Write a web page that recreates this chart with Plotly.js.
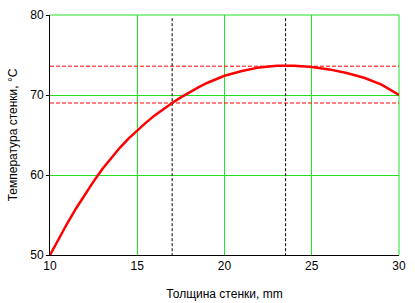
<!DOCTYPE html>
<html>
<head>
<meta charset="utf-8">
<script src="https://cdn.plot.ly/plotly-3.0.1.min.js"></script>
<style>html,body{margin:0;padding:0;background:#fff;}#chart{width:415px;height:303px;}</style>
</head>
<body>
<div id="chart"></div>
<script>
// Wall thickness, mm
const thickness = [10, 10.5, 11, 11.5, 12, 12.5, 13, 13.5, 14, 14.5, 15, 15.5, 16, 16.5, 17, 17.5, 18, 18.5, 19, 19.5, 20, 21, 22, 23, 24, 25, 26, 27, 28, 29, 30];
// Wall temperature, °C
const temperature = [50, 52.05, 54.0, 55.85, 57.6, 59.2, 60.75, 62.1, 63.4, 64.55, 65.6, 66.55, 67.45, 68.25, 69.0, 69.7, 70.35, 70.95, 71.5, 71.95, 72.4, 73.0, 73.45, 73.65, 73.65, 73.5, 73.2, 72.75, 72.15, 71.3, 70.0];
// Reference levels
const hLevels = [73.6, 69.0];
const vMarks = [17.0, 23.5];
const xTickVals = [10, 15, 20, 25, 30];
const yTickVals = [50, 60, 70, 80];
const xTitle = "Толщина стенки, mm";
const yTitle = "Температура стенки, °C";

const gridColor = '#22e022';
const traces = [];
hLevels.forEach(v => traces.push({
  x: [xTickVals[0], xTickVals[xTickVals.length-1]], y: [v, v], mode: 'lines',
  line: {color: '#ff0000', width: 1, dash: '4px,2px'}, hoverinfo: 'skip'
}));
vMarks.forEach(v => traces.push({
  x: [v, v], y: [yTickVals[yTickVals.length-1] - 0.4, yTickVals[0]], mode: 'lines',
  line: {color: '#000000', width: 1, dash: '3px,2px'}, hoverinfo: 'skip'
}));
traces.push({
  x: thickness, y: temperature, mode: 'lines',
  line: {color: '#ff0000', width: 2.5, shape: 'linear'}
});

const layout = {
  width: 415, height: 303,
  margin: {l: 50, r: 16, t: 15, b: 48},
  paper_bgcolor: '#ffffff', plot_bgcolor: '#ffffff',
  showlegend: false,
  font: {family: 'Liberation Sans, Arial, sans-serif', size: 12, color: '#000'},
  xaxis: {
    range: [10, 30], tickvals: xTickVals, ticktext: xTickVals.map(String),
    showgrid: true, gridcolor: gridColor, gridwidth: 1,
    showline: true, linecolor: '#000', linewidth: 1,
    ticks: '', zeroline: false,
    tickfont: {size: 12},
    title: {text: xTitle, font: {size: 12}, standoff: 17}
  },
  yaxis: {
    range: [50, 80], tickvals: yTickVals, ticktext: yTickVals.map(String),
    showgrid: true, gridcolor: gridColor, gridwidth: 1,
    showline: true, linecolor: '#000', linewidth: 1,
    ticks: 'outside', ticklen: 3, tickcolor: '#000', zeroline: false,
    tickfont: {size: 12},
    title: {text: yTitle, font: {size: 12}, standoff: 10}
  },
  shapes: [
    {type: 'line', xref: 'paper', yref: 'paper', x0: 0, x1: 1, y0: 1, y1: 1, line: {color: gridColor, width: 1}, layer: 'below'},
    {type: 'line', xref: 'paper', yref: 'paper', x0: 1, x1: 1, y0: 0, y1: 1, line: {color: gridColor, width: 1}, layer: 'below'}
  ]
};

Plotly.newPlot('chart', traces, layout, {staticPlot: true, displayModeBar: false});
</script>
</body>
</html>
